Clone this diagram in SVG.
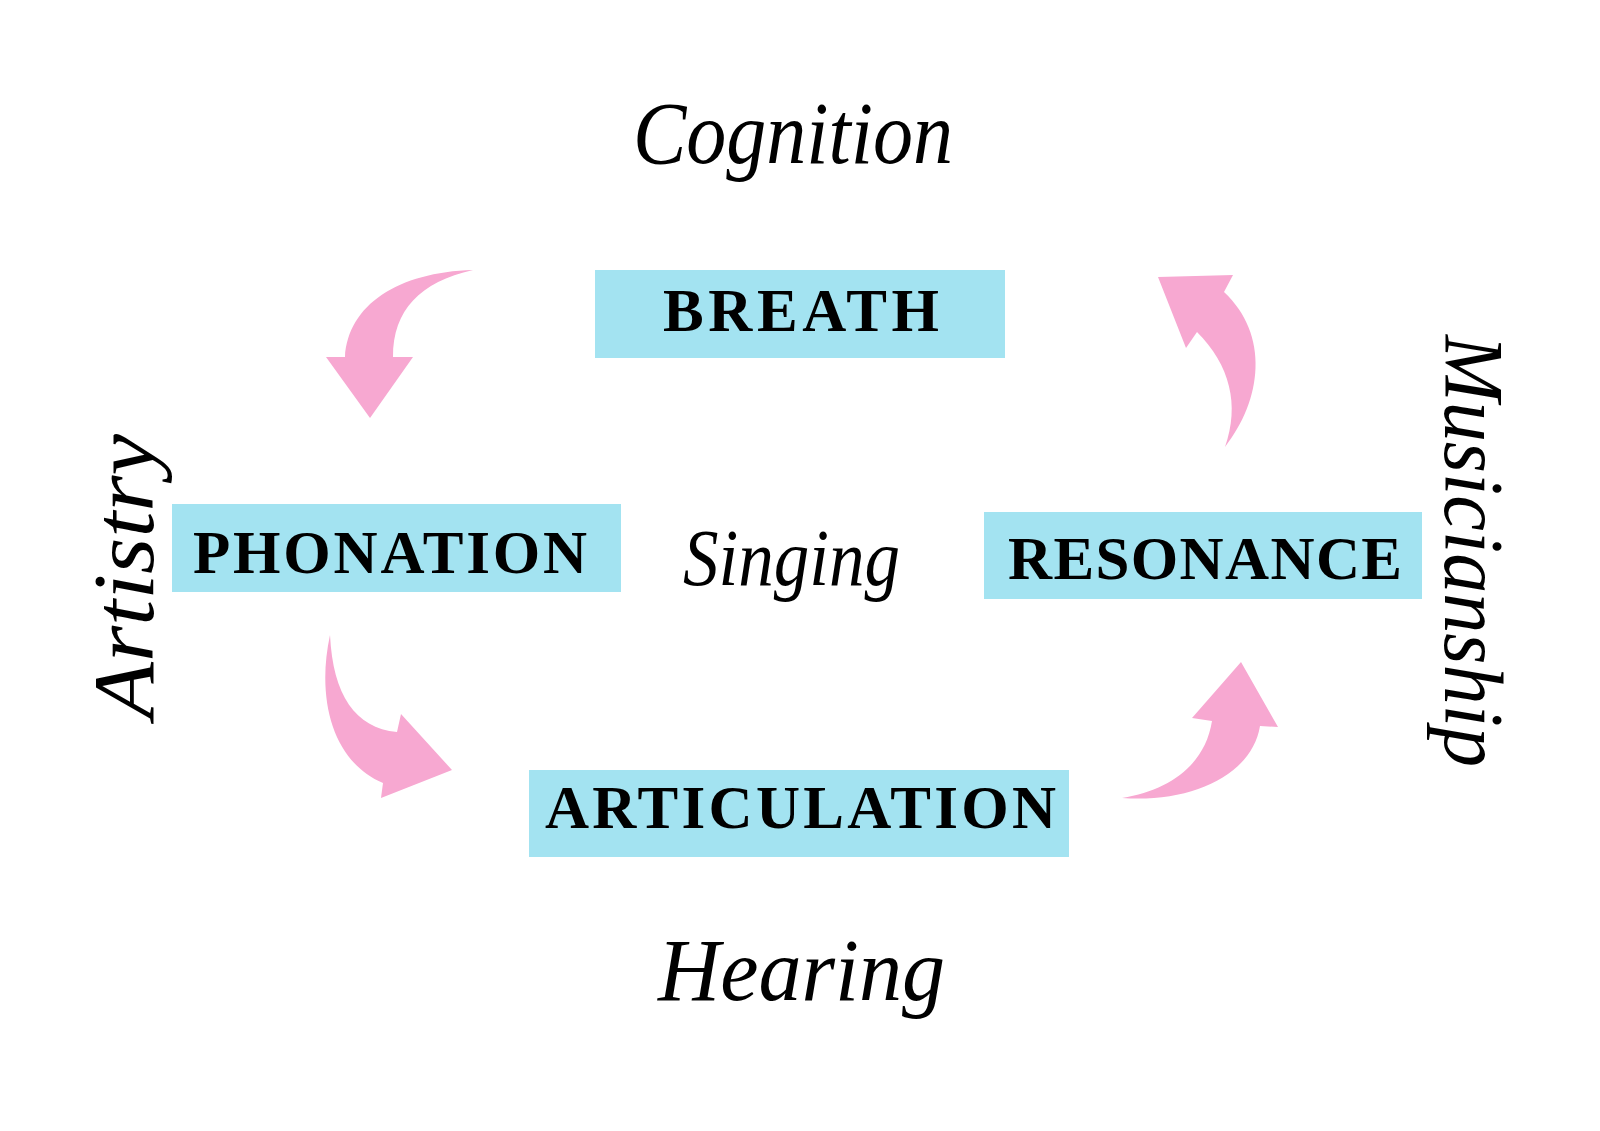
<svg xmlns="http://www.w3.org/2000/svg" width="1600" height="1131" viewBox="0 0 1600 1131">
<style>
.box{fill:#A3E3F1}
.lbl{font-family:"Liberation Serif","Times New Roman",serif;font-weight:bold;font-size:61px;fill:#000}
.scr{font-family:"Liberation Serif","Times New Roman",serif;font-style:italic;fill:#000}
.arr{fill:#F7A8D1}
</style>
<rect width="1600" height="1131" fill="#fff"/>
<g id="connectors">
<path class="arr" d="M473,270 C398,272 348,305 345,357 L326,357 L370,418 L413,357 L393,357 C393,310 420,282 473,270 Z"/>
<path class="arr" d="M330,635 C316,700 333,762 383,783 L381,798 L452,770 L401,714 L397,732 C355,728 333,695 330,635 Z"/>
<path class="arr" d="M1122,798 C1192,803 1252,775 1260,726 L1278,727 L1241,662 L1192,718 L1212,721 C1205,765 1170,790 1122,798 Z"/>
<path class="arr" d="M1225,447 C1262,400 1270,335 1224,292 L1233,275 L1158,277 L1186,348 L1197,332 C1230,365 1240,405 1225,447 Z"/>
</g>
<g id="breath">
<rect class="box" x="595" y="270" width="410" height="88"/>
<text class="lbl" x="663" y="331" textLength="276" lengthAdjust="spacing">BREATH</text>
</g>
<g id="phonation">
<rect class="box" x="172" y="504" width="449" height="88"/>
<text class="lbl" x="193" y="573" textLength="394" lengthAdjust="spacing">PHONATION</text>
</g>
<g id="resonance">
<rect class="box" x="984" y="512" width="438" height="87"/>
<text class="lbl" x="1008" y="579" textLength="394" lengthAdjust="spacing">RESONANCE</text>
</g>
<g id="articulation">
<rect class="box" x="529" y="770" width="540" height="87"/>
<text class="lbl" x="545" y="828" textLength="511" lengthAdjust="spacing">ARTICULATION</text>
</g>
<g id="cognition">
<text class="scr" x="633" y="163" font-size="88" textLength="320" lengthAdjust="spacingAndGlyphs">Cognition</text>
</g>
<g id="singing">
<text class="scr" x="683" y="585" font-size="80" textLength="217" lengthAdjust="spacingAndGlyphs">Singing</text>
</g>
<g id="hearing">
<text class="scr" x="658" y="1000" font-size="88" textLength="287" lengthAdjust="spacingAndGlyphs">Hearing</text>
</g>
<g id="artistry">
<text class="scr" transform="translate(153,719) rotate(-90)" x="0" y="0" font-size="86" textLength="285" lengthAdjust="spacingAndGlyphs">Artistry</text>
</g>
<g id="musicianship">
<text class="scr" transform="translate(1445,335) rotate(90)" x="0" y="0" font-size="84" textLength="432" lengthAdjust="spacingAndGlyphs">Musicianship</text>
</g>
</svg>
